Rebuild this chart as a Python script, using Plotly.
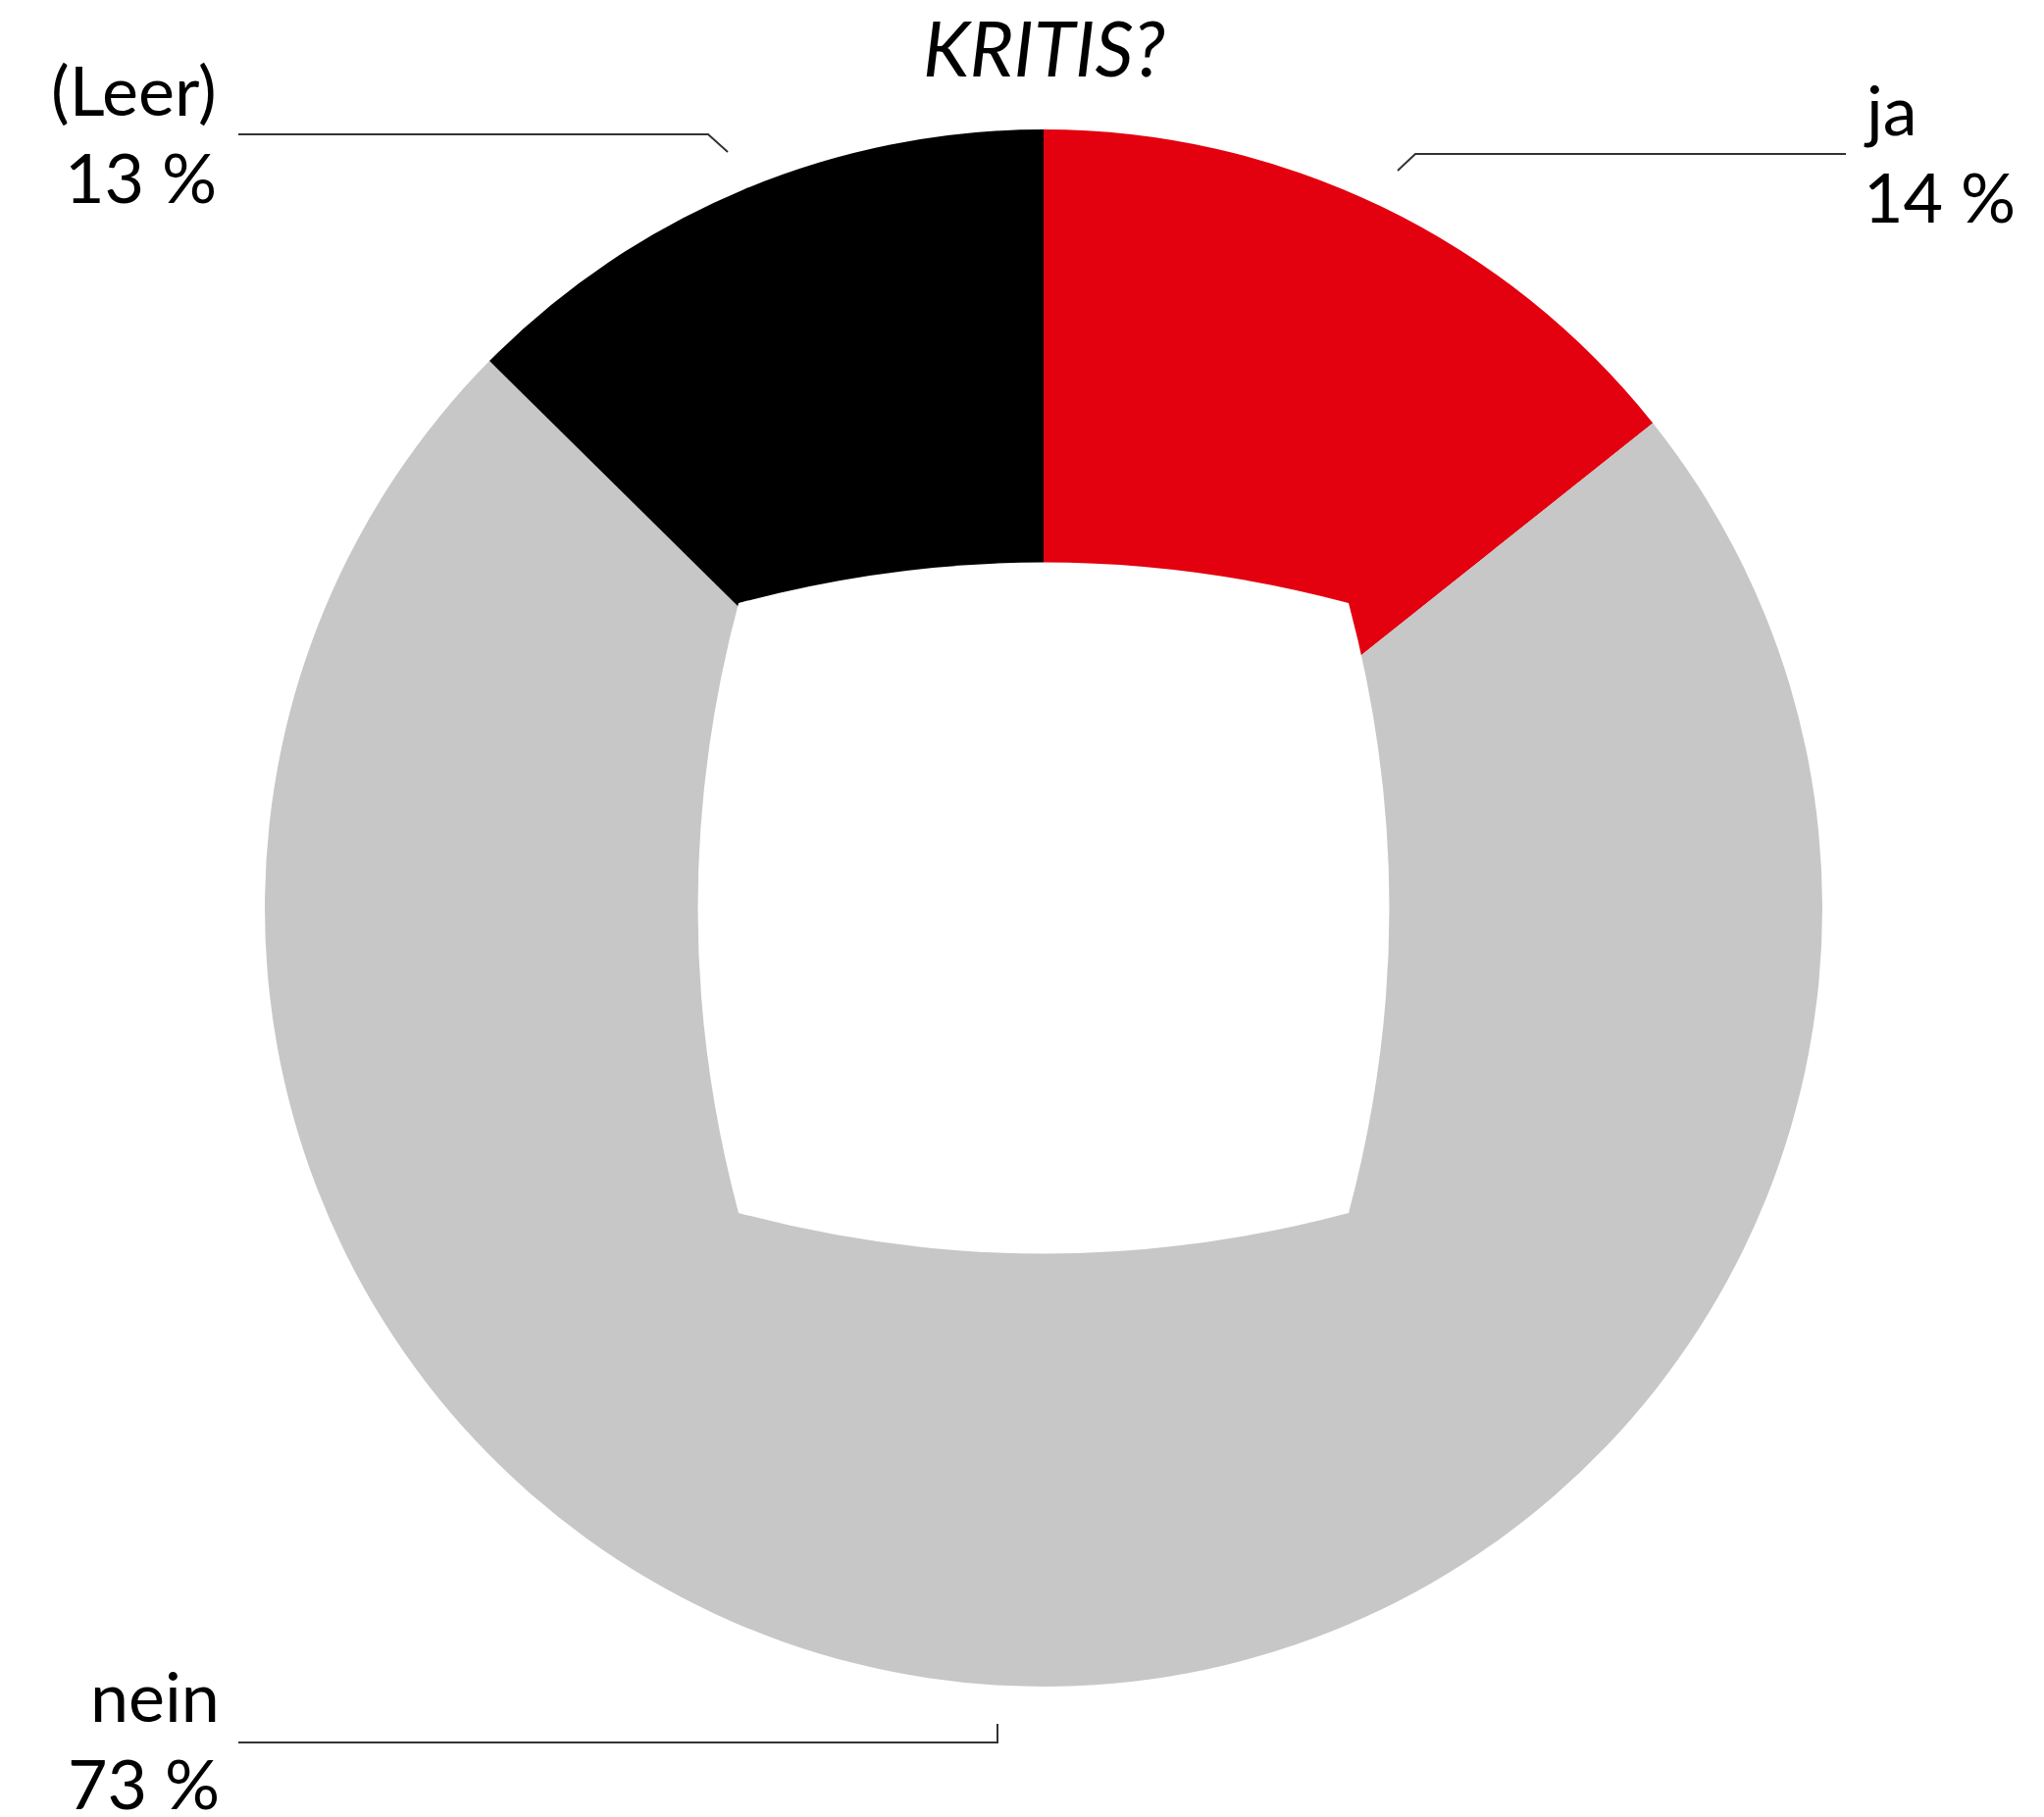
import plotly.graph_objects as go

# Daten
kategorien = ['ja', 'nein', '(Leer)']
anteile = [14.3, 73.1, 12.6]
farben = ['#E3000F', '#C6C7C6', '#000000']
titel = 'KRITIS?'

W, H = 2084, 1853
CX, CY, R = 1064, 926, 794
SCHRIFT = 'Lato, Open Sans, sans-serif'

fig = go.Figure()
fig.add_trace(go.Pie(
    labels=kategorien,
    values=anteile,
    sort=False,
    direction='clockwise',
    rotation=0,
    marker=dict(colors=farben, line=dict(width=0)),
    textinfo='none',
    hoverinfo='label+percent',
    showlegend=False,
    domain=dict(x=[(CX - R) / W, (CX + R) / W],
                y=[(H - CY - R) / H, (H - CY + R) / H]),
))

# eckiges Loch in der Mitte (weiße Fläche)
a, b = 311, 394
hole = (f'M {CX-a},{CY-a} Q {CX},{CY-b} {CX+a},{CY-a} '
        f'Q {CX+b},{CY} {CX+a},{CY+a} '
        f'Q {CX},{CY+b} {CX-a},{CY+a} '
        f'Q {CX-b},{CY} {CX-a},{CY-a} Z')
fig.add_shape(type='path', path=hole, xref='x', yref='y',
              fillcolor='white', line=dict(width=0), layer='above')

# Führungslinien
linien = [
    'M 243,137 L 722,137 L 742,155',
    'M 1425,174 L 1443,157 L 1882,157',
    'M 243,1777 L 1017,1777 L 1017,1758',
]
for p in linien:
    fig.add_shape(type='path', path=p, xref='x', yref='y',
                  line=dict(color='#333333', width=2), layer='above')

# Beschriftungen
pos = {
    'ja': (1898, 157, 'left'),
    'nein': (226, 1775, 'right'),
    '(Leer)': (223, 137, 'right'),
}
for k, v in zip(kategorien, anteile):
    x, y, al = pos[k]
    fig.add_annotation(x=x, y=y, xref='x', yref='y', text=k,
                       showarrow=False, xanchor=al, yanchor='bottom',
                       yshift=2, font=dict(family=SCHRIFT, size=70, color='black'))
    fig.add_annotation(x=x, y=y, xref='x', yref='y', text=f'{round(v)} %',
                       showarrow=False, xanchor=al, yanchor='top',
                       yshift=1, font=dict(family=SCHRIFT, size=70, color='black'))

fig.add_annotation(x=CX, y=48, xref='x', yref='y', text=f'<i>{titel}</i>',
                   showarrow=False, xanchor='center', yanchor='middle',
                   font=dict(family=SCHRIFT, size=77, color='black'))

fig.update_layout(
    width=W, height=H,
    margin=dict(l=0, r=0, t=0, b=0),
    paper_bgcolor='white',
    plot_bgcolor='white',
    xaxis=dict(range=[0, W], visible=False, fixedrange=True),
    yaxis=dict(range=[H, 0], visible=False, fixedrange=True),
)

fig.write_html('out.html', config={'displayModeBar': False},
               post_script="document.body.style.margin='0';")
